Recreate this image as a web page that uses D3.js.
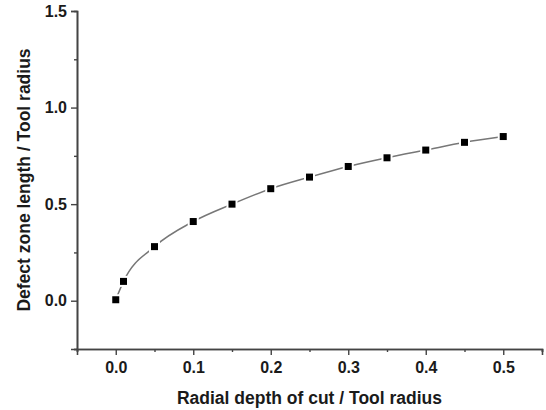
<!DOCTYPE html>
<html>
<head>
<meta charset="utf-8">
<script src="https://cdn.jsdelivr.net/npm/d3@7"></script>
<style>
  body { margin: 0; background: #fff; }
  #chart text { font-family: "Liberation Sans", Arial, sans-serif; font-weight: bold; fill: #1a1a1a; }
</style>
</head>
<body>
<div id="chart"></div>
<script>
// Data
var depths = [0.0, 0.01, 0.05, 0.1, 0.15, 0.2, 0.25, 0.3, 0.35, 0.4, 0.45, 0.5];
var zoneLengths = [0.005, 0.10, 0.28, 0.41, 0.50, 0.58, 0.64, 0.695, 0.74, 0.78, 0.82, 0.85];
var xTicks = [0.0, 0.1, 0.2, 0.3, 0.4, 0.5];
var xMinorTicks = [-0.05, 0.05, 0.15, 0.25, 0.35, 0.45, 0.55];
var yTicks = [0.0, 0.5, 1.0, 1.5];
var yMinorTicks = [-0.25, 0.25, 0.75, 1.25];

function initializeChart() {
    d3.select("#chart").select("svg").remove();

    var margin = { top: 11, right: 4, bottom: 61, left: 77 },
        width = 546 - margin.left - margin.right,
        height = 410 - margin.top - margin.bottom;

    var svg = d3.select("#chart").append("svg")
        .attr("width", width + margin.left + margin.right)
        .attr("height", height + margin.top + margin.bottom)
        .append("g")
        .attr("transform", `translate(${margin.left},${margin.top})`);

    // Scales
    var x = d3.scaleLinear().domain([-0.05, 0.55]).range([0, width]);
    var y = d3.scaleLinear().domain([-0.25, 1.5]).range([height, 0]);

    // X axis
    svg.append("g")
        .attr("transform", `translate(0,${height})`)
        .call(d3.axisBottom(x).tickValues(xTicks).tickSize(6).tickPadding(7)
            .tickFormat(d3.format(".1f")));
    svg.append("g")
        .attr("transform", `translate(0,${height})`)
        .call(d3.axisBottom(x).tickValues(xMinorTicks).tickSize(3).tickFormat(""));

    // Y axis
    svg.append("g")
        .call(d3.axisLeft(y).tickValues(yTicks).tickSize(6).tickPadding(4)
            .tickFormat(d3.format(".1f")));
    svg.append("g")
        .call(d3.axisLeft(y).tickValues(yMinorTicks).tickSize(3).tickFormat(""));

    svg.selectAll(".domain").attr("stroke", "#444").attr("stroke-width", 1.6);
    svg.selectAll(".tick line").attr("stroke", "#444").attr("stroke-width", 1.4);
    svg.selectAll(".tick text").style("font-size", "16px");

    // Axis titles
    svg.append("text")
        .attr("x", width / 2)
        .attr("y", height + 55)
        .attr("text-anchor", "middle")
        .style("font-size", "17.5px")
        .text("Radial depth of cut / Tool radius");

    svg.append("text")
        .attr("transform", `translate(${-47},${height / 2}) rotate(-90)`)
        .attr("text-anchor", "middle")
        .style("font-size", "17.5px")
        .text("Defect zone length / Tool radius");

    var datalist = depths.map(function (d, i) {
        return { x: d, y: zoneLengths[i] };
    });

    // Line
    var line = d3.line()
        .curve(d3.curveMonotoneX)
        .x(d => x(d.x))
        .y(d => y(d.y));

    svg.append("path")
        .datum(datalist)
        .attr("fill", "none")
        .attr("stroke", "#777")
        .attr("stroke-width", 1.5)
        .attr("d", line);

    // White gap around markers, then the black squares
    svg.selectAll("gap")
        .data(datalist)
        .enter()
        .append("rect")
        .attr("x", d => x(d.x) - 5.5)
        .attr("y", d => y(d.y) - 5.5)
        .attr("width", 11)
        .attr("height", 11)
        .attr("fill", "#fff");

    svg.selectAll("marker")
        .data(datalist)
        .enter()
        .append("rect")
        .attr("x", d => x(d.x) - 3.5)
        .attr("y", d => y(d.y) - 3.5)
        .attr("width", 7)
        .attr("height", 7)
        .attr("fill", "#000");
}

document.addEventListener('DOMContentLoaded', initializeChart);
</script>
</body>
</html>
